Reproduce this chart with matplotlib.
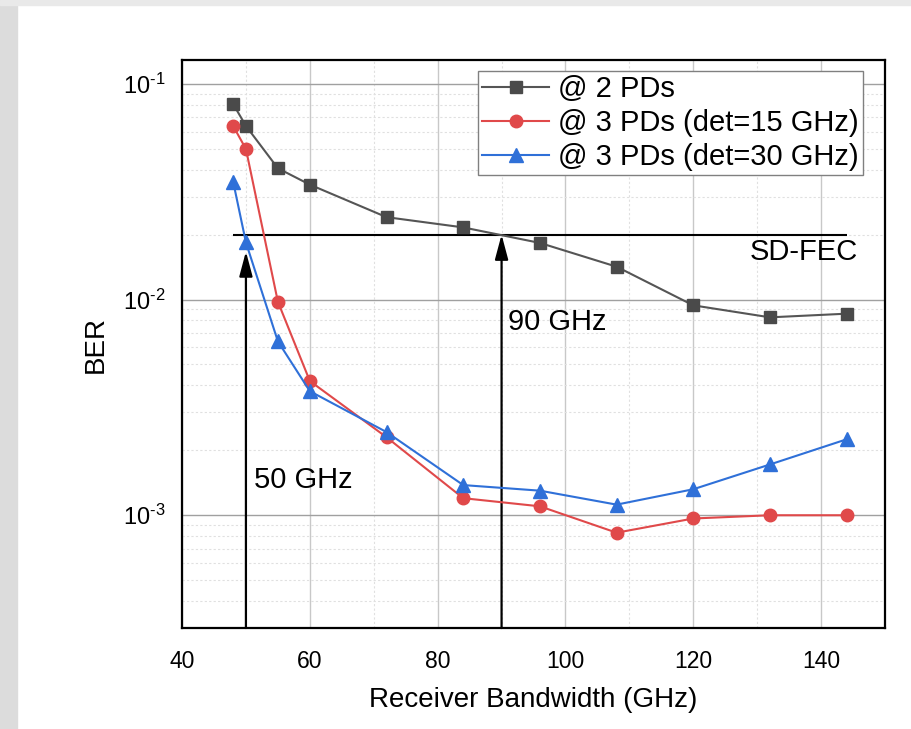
import matplotlib
matplotlib.use("Agg")
import matplotlib.pyplot as plt
from matplotlib.patches import Rectangle
from matplotlib.ticker import LogLocator, MultipleLocator, NullFormatter, FuncFormatter
import numpy as np

plt.rcParams['font.family'] = ['Liberation Sans', 'DejaVu Sans']
plt.rcParams['mathtext.fontset'] = 'custom'
plt.rcParams['mathtext.rm'] = 'Liberation Sans'
plt.rcParams['mathtext.default'] = 'regular'

# receiver bandwidth (GHz)
bw = [48, 50, 55, 60, 72, 84, 96, 108, 120, 132, 144]

# BER values
ber_2pd = [0.0807, 0.0638, 0.0406, 0.0341, 0.0241, 0.0216, 0.0183, 0.0142, 0.0094, 0.00827, 0.0086]
ber_3pd_15 = [0.0638, 0.0499, 0.00977, 0.00419, 0.0023, 0.0012, 0.0011, 0.00083, 0.000966, 0.001, 0.001]
ber_3pd_30 = [0.0352, 0.0184, 0.0064, 0.00376, 0.00243, 0.00138, 0.0013, 0.00112, 0.00132, 0.00172, 0.00225]

labels = ['@ 2 PDs', '@ 3 PDs (det=15 GHz)', '@ 3 PDs (det=30 GHz)']
fec_limit = 0.02
fec_range = [48, 144]
arrow_50_top = 0.0167


def pow10(v, pos):
    e = int(round(np.log10(v)))
    return r'$10^{\text{%d}}$' % e


fig = plt.figure(figsize=(9.11, 7.29), dpi=100)
# grey page border
fig.patches.append(Rectangle((0, 0), 17 / 911, 1, transform=fig.transFigure,
                             color='#dcdcdc', zorder=-10))
fig.patches.append(Rectangle((0, 1 - 5 / 729), 1, 5 / 729, transform=fig.transFigure,
                             color='#e9e9e9', zorder=-10))

ax = fig.add_axes([0.1998, 0.1385, 0.7717, 0.7792])
ax.set_yscale('log')
ax.set_xlim(40, 150)
ax.set_ylim(3e-4, 0.129)

ax.plot(bw, ber_2pd, color='#555555', marker='s', ms=8.5, mfc='#4a4a4a', mec='#4a4a4a',
        lw=1.5, label=labels[0], zorder=5)
ax.plot(bw, ber_3pd_15, color='#e0494a', marker='o', ms=9, lw=1.5, label=labels[1], zorder=5)
ax.plot(bw, ber_3pd_30, color='#2f70d8', marker='^', ms=10, lw=1.5, label=labels[2], zorder=5)

# SD-FEC threshold and arrows
ax.hlines(fec_limit, fec_range[0], fec_range[1], color='black', lw=1.5, zorder=4)
ax.text(145.7, 0.0166, 'SD-FEC', fontsize=21, ha='right', va='center')
arrow = dict(arrowstyle='-|>,head_length=0.75,head_width=0.2', color='black', lw=1.6,
             shrinkA=0, shrinkB=0, mutation_scale=20)
ax.annotate('', xy=(50, arrow_50_top), xytext=(50, 3e-4), arrowprops=arrow, zorder=4)
ax.annotate('', xy=(90, fec_limit), xytext=(90, 3e-4), arrowprops=arrow, zorder=4)
ax.text(51.3, 0.00145, '50 GHz', fontsize=21, ha='left', va='center')
ax.text(91, 0.00785, '90 GHz', fontsize=21, ha='left', va='center')

# grid
ax.xaxis.set_major_locator(MultipleLocator(20))
ax.xaxis.set_minor_locator(MultipleLocator(10))
ax.yaxis.set_major_locator(LogLocator(base=10, numticks=10))
ax.yaxis.set_major_formatter(FuncFormatter(pow10))
ax.yaxis.set_minor_locator(LogLocator(base=10, subs=range(2, 10), numticks=20))
ax.yaxis.set_minor_formatter(NullFormatter())
ax.grid(True, which='major', axis='x', color='#c8c8c8', lw=1.0)
ax.grid(True, which='major', axis='y', color='#a0a0a0', lw=1.0)
ax.grid(True, which='minor', color='#e0e0e0', lw=0.8, ls=(0, (2, 2)))
ax.set_axisbelow(True)

for s in ax.spines.values():
    s.set_linewidth(1.6)
    s.set_color('black')

ax.tick_params(which='both', length=0)
ax.tick_params(axis='x', labelsize=16.5, pad=16)
ax.tick_params(axis='y', labelsize=17, pad=12)

ax.set_xlabel('Receiver Bandwidth (GHz)', fontsize=20, labelpad=10)
ax.set_ylabel('BER', fontsize=20, labelpad=10)

leg = ax.legend(loc='upper right', bbox_to_anchor=(0.969, 0.981), borderaxespad=0,
                fontsize=21, fancybox=False, edgecolor='#808080', framealpha=1,
                handlelength=2.3, handletextpad=0.3, labelspacing=0.2, borderpad=0.15)
leg.get_frame().set_linewidth(1.0)

fig.savefig('out.png', dpi=100)
